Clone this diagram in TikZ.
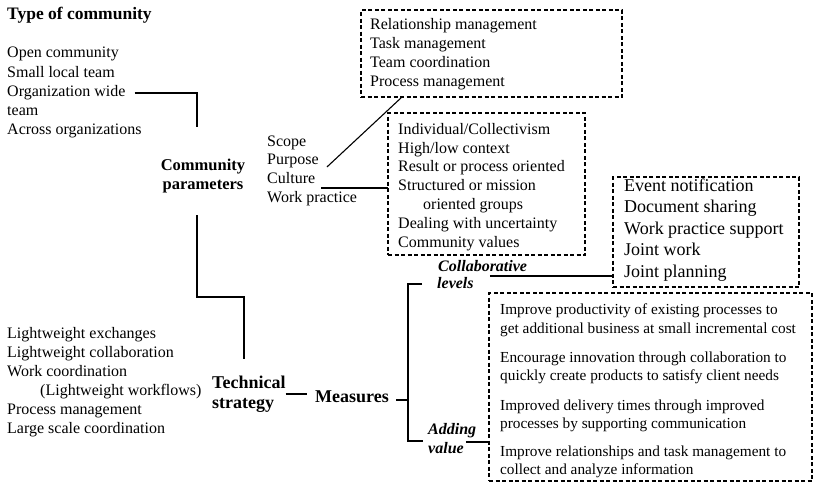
\documentclass[tikz,border=0pt]{standalone}
\usepackage{fontspec}
\setmainfont{Liberation Serif}
\usetikzlibrary{calc}
\begin{document}
\begin{tikzpicture}[x=1pt,y=-1pt,
  txt/.style={anchor=base west, inner sep=0pt, font=\fontsize{16}{19}\selectfont},
  smalltxt/.style={anchor=base west, inner sep=0pt, font=\fontsize{15.3}{18}\selectfont},
  bigtxt/.style={anchor=base west, inner sep=0pt, font=\fontsize{18}{21}\selectfont},
  head/.style={anchor=base west, inner sep=0pt, font=\bfseries\fontsize{17.5}{20}\selectfont},
  midhead/.style={anchor=base, inner sep=0pt, font=\bfseries\fontsize{16.5}{19}\selectfont},
  bighead/.style={anchor=base west, inner sep=0pt, font=\bfseries\fontsize{18}{21}\selectfont},
  sub/.style={anchor=base west, inner sep=0pt, font=\bfseries\itshape\fontsize{16}{19}\selectfont},
  dbox/.style={draw, line width=1.5pt, dash pattern=on 4pt off 2.5pt, anchor=north west,
    inner sep=0pt, outer sep=0pt},
  conn/.style={draw, line width=1.1pt},
]
\useasboundingbox (0,0) rectangle (815,485);

% ---- type of community
\node[head] (title) at (7,19) {Type of community};
\node[txt] (t1) at (7,57) {Open community};
\node[txt] (t2) at (7,77) {Small local team};
\node[txt] (t3) at (7,96.5) {Organization wide};
\node[txt] (t4) at (7,115) {team};
\node[txt] (t5) at (7,134) {Across organizations};

% ---- community parameters
\node[midhead] (cp1) at (203,170) {Community};
\node[midhead] (cp2) at (203,189) {parameters};
\coordinate (cpin) at (197,127);
\coordinate (cpout) at (197,215);
\coordinate (tsin) at (244,359);
\draw[conn] ([xshift=9pt]t3.east |- 0,93) -| (cpin);

\node[txt] (sc1) at (267,146) {Scope};
\node[txt] (sc2) at (267,164.5) {Purpose};
\node[txt] (sc3) at (267,183) {Culture};
\node[txt] (sc4) at (267,202) {Work practice};

% ---- scope / purpose box
\node[dbox, minimum width=261pt, minimum height=87pt] (box1) at (361,10) {};
\node[txt] (b11) at (370,29.5) {Relationship management};
\node[txt] (b12) at (370,48.5) {Task management};
\node[txt] (b13) at (370,67.5) {Team coordination};
\node[txt] (b14) at (370,86.5) {Process management};

% ---- culture box
\node[dbox, minimum width=197pt, minimum height=142pt] (box2) at (388,113) {};
\node[txt] (b21) at (398,134.5) {Individual/Collectivism};
\node[txt] (b22) at (398,153) {High/low context};
\node[txt] (b23) at (398,171.5) {Result or process oriented};
\node[txt] (b24) at (398,190) {Structured or mission};
\node[txt] (b25) at (423,209) {oriented groups};
\node[txt] (b26) at (398,228) {Dealing with uncertainty};
\node[txt] (b27) at (398,247) {Community values};

\draw[conn] ([shift={(8,6)}]sc2.east) -- ($(box1.south west)+(41,0)$);
\draw[conn] ([xshift=6pt]sc3.east |- 0,188) -- (box2.west |- 0,188);

% ---- collaborative levels box
\node[dbox, minimum width=186pt, minimum height=110pt] (box3) at (613,177) {};
\node[bigtxt] (b31) at (624,191.5) {Event notification};
\node[bigtxt] (b32) at (624,212.5) {Document sharing};
\node[bigtxt] (b33) at (624,234) {Work practice support};
\node[bigtxt] (b34) at (624,255.5) {Joint work};
\node[bigtxt] (b35) at (624,277) {Joint planning};

% ---- technical strategy
\node[txt] (l1) at (7,338) {Lightweight exchanges};
\node[txt] (l2) at (7,357) {Lightweight collaboration};
\node[txt] (l3) at (7,376) {Work coordination};
\node[txt] (l4) at (40,395) {(Lightweight workflows)};
\node[txt] (l5) at (7,414) {Process management};
\node[txt] (l6) at (7,433) {Large scale coordination};

\node[bighead] (ts1) at (212,388) {Technical};
\node[bighead] (ts2) at (212,408) {strategy};
\node[bighead] (meas) at (315,402) {Measures};

\draw[conn] (cpout) |- (244,297) -- (tsin);
\draw[conn] (ts1.east |- 0,394) -- ([xshift=-8pt]meas.west |- 0,394);

% ---- measures bracket
\node[sub] (cl1) at (438,271) {Collaborative};
\node[sub] (cl2) at (437,288) {levels};
\node[sub] (av1) at (428,434) {Adding};
\node[sub] (av2) at (428,453) {value};

\draw[conn] ([xshift=7pt]meas.east |- 0,400) -- (408,400);
\draw[conn] ([xshift=-15pt]cl2.west |- 0,284) -| (408,441) -- ([xshift=-5pt]av1.west |- 0,441);
\draw[conn] ([xshift=16pt]cl2.east |- 0,276) -- (box3.west |- 0,276);

% ---- adding value box
\node[dbox, minimum width=323pt, minimum height=188pt] (box4) at (489,293) {};
\node[smalltxt] (b41) at (500,314) {Improve productivity of existing processes to};
\node[smalltxt] (b42) at (500,333) {get additional business at small incremental cost};
\node[smalltxt] (b43) at (500,362) {Encourage innovation through collaboration to};
\node[smalltxt] (b44) at (500,380.5) {quickly create products to satisfy client needs};
\node[smalltxt] (b45) at (500,410) {Improved delivery times through improved};
\node[smalltxt] (b46) at (500,428.5) {processes by supporting communication};
\node[smalltxt] (b47) at (500,456) {Improve relationships and task management to};
\node[smalltxt] (b48) at (500,474.5) {collect and analyze information};

\draw[conn] ([xshift=2pt]av2.east |- 0,442) -- (box4.west |- 0,442);
\end{tikzpicture}
\end{document}
